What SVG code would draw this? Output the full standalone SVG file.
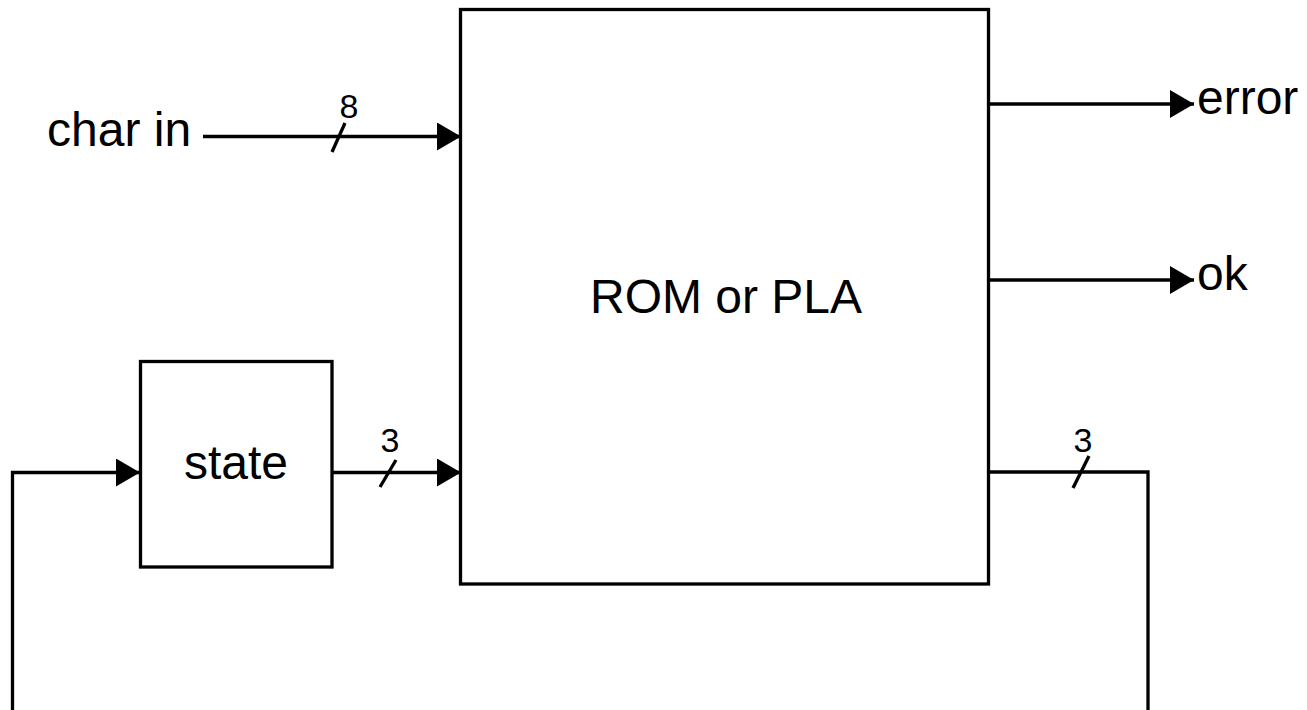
<svg xmlns="http://www.w3.org/2000/svg" width="1307" height="710" viewBox="0 0 1307 710">
<style>
.box{fill:#fff;stroke:#000;stroke-width:3.3}
.w{fill:none;stroke:#000;stroke-width:3.3}
.t{font-family:"Liberation Sans",Arial,sans-serif;font-size:48px;fill:#000}
.n{font-family:"Liberation Sans",Arial,sans-serif;font-size:34px;fill:#000;text-anchor:middle}
</style>
<defs>
<marker id="ah" markerUnits="userSpaceOnUse" markerWidth="26" markerHeight="30" refX="24" refY="14" orient="auto">
<path d="M0,0 L24,14 L0,28 Z" fill="#000"/>
</marker>
</defs>
<rect width="1307" height="710" fill="#fff"/>
<g id="rom">
<rect class="box" x="460.5" y="9.5" width="528" height="574.5"/>
<text class="t" x="726" y="313" text-anchor="middle">ROM or PLA</text>
</g>
<g id="state">
<rect class="box" x="140.5" y="361.5" width="191.5" height="205.5"/>
<text class="t" x="236" y="479" text-anchor="middle">state</text>
</g>
<g id="labels">
<text class="t" x="47" y="146">char in</text>
<text class="t" x="1197" y="114">error</text>
<text class="t" x="1197" y="290">ok</text>
<text class="n" x="349" y="118">8</text>
<text class="n" x="390" y="452">3</text>
<text class="n" x="1083" y="452">3</text>
</g>
<g id="connectors">
<line class="w" x1="203" y1="136.5" x2="461" y2="136.5" marker-end="url(#ah)"/>
<line class="w" x1="332" y1="152" x2="345" y2="123"/>
<line class="w" x1="989" y1="104" x2="1194" y2="104" marker-end="url(#ah)"/>
<line class="w" x1="989" y1="280" x2="1194" y2="280" marker-end="url(#ah)"/>
<line class="w" x1="332" y1="472.5" x2="461" y2="472.5" marker-end="url(#ah)"/>
<line class="w" x1="380" y1="487" x2="396" y2="460"/>
<polyline class="w" points="12.5,710 12.5,472.5 140,472.5" marker-end="url(#ah)"/>
<polyline class="w" points="989,472 1148,472 1148,710"/>
<line class="w" x1="1073" y1="488" x2="1089" y2="456"/>
</g>
</svg>
